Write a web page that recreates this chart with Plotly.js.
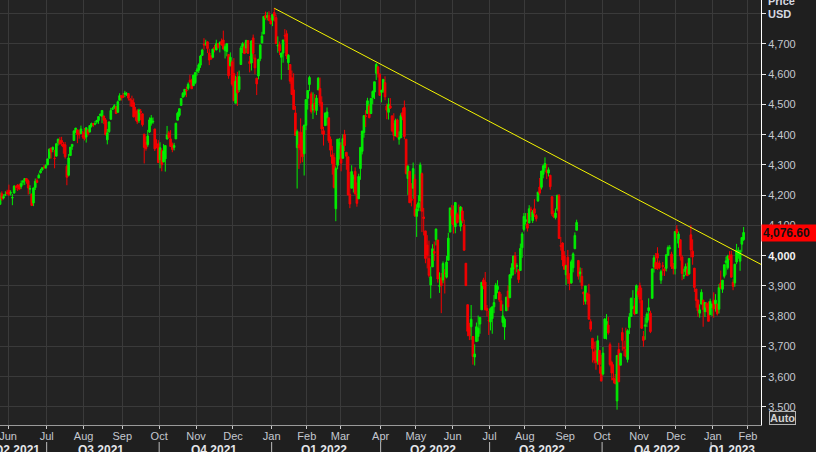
<!DOCTYPE html>
<html>
<head>
<meta charset="utf-8">
<script src="https://cdn.plot.ly/plotly-3.0.1.min.js"></script>
<style>
html,body{margin:0;padding:0;background:#1f1f1f;}
#chart{width:816px;height:452px;}
</style>
</head>
<body>
<div id="chart"></div>
<script>
// ---- Trading days (one line per month) ----
const dates = [
'2021-05-24','2021-05-25','2021-05-26','2021-05-27','2021-05-28',
'2021-06-01','2021-06-02','2021-06-03','2021-06-04','2021-06-07','2021-06-08','2021-06-09','2021-06-10','2021-06-11','2021-06-14','2021-06-15','2021-06-16','2021-06-17','2021-06-18','2021-06-21','2021-06-22','2021-06-23','2021-06-24','2021-06-25','2021-06-28','2021-06-29','2021-06-30',
'2021-07-01','2021-07-02','2021-07-06','2021-07-07','2021-07-08','2021-07-09','2021-07-12','2021-07-13','2021-07-14','2021-07-15','2021-07-16','2021-07-19','2021-07-20','2021-07-21','2021-07-22','2021-07-23','2021-07-26','2021-07-27','2021-07-28','2021-07-29','2021-07-30',
'2021-08-02','2021-08-03','2021-08-04','2021-08-05','2021-08-06','2021-08-09','2021-08-10','2021-08-11','2021-08-12','2021-08-13','2021-08-16','2021-08-17','2021-08-18','2021-08-19','2021-08-20','2021-08-23','2021-08-24','2021-08-25','2021-08-26','2021-08-27','2021-08-30','2021-08-31',
'2021-09-01','2021-09-02','2021-09-03','2021-09-07','2021-09-08','2021-09-09','2021-09-10','2021-09-13','2021-09-14','2021-09-15','2021-09-16','2021-09-17','2021-09-20','2021-09-21','2021-09-22','2021-09-23','2021-09-24','2021-09-27','2021-09-28','2021-09-29','2021-09-30',
'2021-10-01','2021-10-04','2021-10-05','2021-10-06','2021-10-07','2021-10-08','2021-10-11','2021-10-12','2021-10-13','2021-10-14','2021-10-15','2021-10-18','2021-10-19','2021-10-20','2021-10-21','2021-10-22','2021-10-25','2021-10-26','2021-10-27','2021-10-28','2021-10-29',
'2021-11-01','2021-11-02','2021-11-03','2021-11-04','2021-11-05','2021-11-08','2021-11-09','2021-11-10','2021-11-11','2021-11-12','2021-11-15','2021-11-16','2021-11-17','2021-11-18','2021-11-19','2021-11-22','2021-11-23','2021-11-24','2021-11-26','2021-11-29','2021-11-30',
'2021-12-01','2021-12-02','2021-12-03','2021-12-06','2021-12-07','2021-12-08','2021-12-09','2021-12-10','2021-12-13','2021-12-14','2021-12-15','2021-12-16','2021-12-17','2021-12-20','2021-12-21','2021-12-22','2021-12-23','2021-12-27','2021-12-28','2021-12-29','2021-12-30','2021-12-31',
'2022-01-03','2022-01-04','2022-01-05','2022-01-06','2022-01-07','2022-01-10','2022-01-11','2022-01-12','2022-01-13','2022-01-14','2022-01-18','2022-01-19','2022-01-20','2022-01-21','2022-01-24','2022-01-25','2022-01-26','2022-01-27','2022-01-28','2022-01-31',
'2022-02-01','2022-02-02','2022-02-03','2022-02-04','2022-02-07','2022-02-08','2022-02-09','2022-02-10','2022-02-11','2022-02-14','2022-02-15','2022-02-16','2022-02-17','2022-02-18','2022-02-22','2022-02-23','2022-02-24','2022-02-25','2022-02-28',
'2022-03-01','2022-03-02','2022-03-03','2022-03-04','2022-03-07','2022-03-08','2022-03-09','2022-03-10','2022-03-11','2022-03-14','2022-03-15','2022-03-16','2022-03-17','2022-03-18','2022-03-21','2022-03-22','2022-03-23','2022-03-24','2022-03-25','2022-03-28','2022-03-29','2022-03-30','2022-03-31',
'2022-04-01','2022-04-04','2022-04-05','2022-04-06','2022-04-07','2022-04-08','2022-04-11','2022-04-12','2022-04-13','2022-04-14','2022-04-18','2022-04-19','2022-04-20','2022-04-21','2022-04-22','2022-04-25','2022-04-26','2022-04-27','2022-04-28','2022-04-29',
'2022-05-02','2022-05-03','2022-05-04','2022-05-05','2022-05-06','2022-05-09','2022-05-10','2022-05-11','2022-05-12','2022-05-13','2022-05-16','2022-05-17','2022-05-18','2022-05-19','2022-05-20','2022-05-23','2022-05-24','2022-05-25','2022-05-26','2022-05-27','2022-05-31',
'2022-06-01','2022-06-02','2022-06-03','2022-06-06','2022-06-07','2022-06-08','2022-06-09','2022-06-10','2022-06-13','2022-06-14','2022-06-15','2022-06-16','2022-06-17','2022-06-21','2022-06-22','2022-06-23','2022-06-24','2022-06-27','2022-06-28','2022-06-29','2022-06-30',
'2022-07-01','2022-07-05','2022-07-06','2022-07-07','2022-07-08','2022-07-11','2022-07-12','2022-07-13','2022-07-14','2022-07-15','2022-07-18','2022-07-19','2022-07-20','2022-07-21','2022-07-22','2022-07-25','2022-07-26','2022-07-27','2022-07-28','2022-07-29',
'2022-08-01','2022-08-02','2022-08-03','2022-08-04','2022-08-05','2022-08-08','2022-08-09','2022-08-10','2022-08-11','2022-08-12','2022-08-15','2022-08-16','2022-08-17','2022-08-18','2022-08-19','2022-08-22','2022-08-23','2022-08-24','2022-08-25','2022-08-26','2022-08-29','2022-08-30','2022-08-31',
'2022-09-01','2022-09-02','2022-09-06','2022-09-07','2022-09-08','2022-09-09','2022-09-12','2022-09-13','2022-09-14','2022-09-15','2022-09-16','2022-09-19','2022-09-20','2022-09-21','2022-09-22','2022-09-23','2022-09-26','2022-09-27','2022-09-28','2022-09-29','2022-09-30',
'2022-10-03','2022-10-04','2022-10-05','2022-10-06','2022-10-07','2022-10-10','2022-10-11','2022-10-12','2022-10-13','2022-10-14','2022-10-17','2022-10-18','2022-10-19','2022-10-20','2022-10-21','2022-10-24','2022-10-25','2022-10-26','2022-10-27','2022-10-28','2022-10-31',
'2022-11-01','2022-11-02','2022-11-03','2022-11-04','2022-11-07','2022-11-08','2022-11-09','2022-11-10','2022-11-11','2022-11-14','2022-11-15','2022-11-16','2022-11-17','2022-11-18','2022-11-21','2022-11-22','2022-11-23','2022-11-25','2022-11-28','2022-11-29','2022-11-30',
'2022-12-01','2022-12-02','2022-12-05','2022-12-06','2022-12-07','2022-12-08','2022-12-09','2022-12-12','2022-12-13','2022-12-14','2022-12-15','2022-12-16','2022-12-19','2022-12-20','2022-12-21','2022-12-22','2022-12-23','2022-12-27','2022-12-28','2022-12-29','2022-12-30',
'2023-01-03','2023-01-04','2023-01-05','2023-01-06','2023-01-09','2023-01-10','2023-01-11','2023-01-12','2023-01-13','2023-01-17','2023-01-18','2023-01-19','2023-01-20','2023-01-23','2023-01-24','2023-01-25','2023-01-26','2023-01-27'
];

const open = [
4170,4205,4191,4201,4210,
4216,4207,4191,4207,4229,4234,4233,4229,4243,4249,4255,4248,4220,4204,4174,4225,4249,4257,4274,4284,4293,4290,
4300,4322,4356,4351,4321,4329,4373,4381,4381,4369,4367,4296,4266,4331,4361,4381,4409,4416,4403,4404,4396,
4407,4392,4416,4409,4429,4437,4435,4442,4447,4464,4461,4462,4449,4383,4410,4451,4484,4490,4493,4474,4514,4529,
4528,4534,4532,4536,4518,4513,4506,4475,4479,4447,4477,4469,4402,4375,4367,4409,4438,4442,4419,4362,4370,
4317,4348,4310,4320,4386,4406,4386,4368,4358,4386,4448,4464,4497,4524,4532,4547,4553,4580,4579,4562,4572,
4610,4613,4630,4662,4699,4701,4707,4670,4660,4656,4689,4680,4701,4700,4708,4713,4678,4675,4665,4628,4640,
4602,4504,4590,4549,4632,4690,4691,4687,4711,4642,4637,4720,4653,4587,4594,4651,4703,4733,4795,4788,4795,4776,
4778,4804,4787,4693,4698,4656,4670,4728,4734,4638,4632,4588,4548,4472,4357,4367,4408,4381,4337,4431,
4520,4566,4535,4482,4505,4480,4548,4553,4507,4413,4430,4456,4456,4385,4333,4325,4155,4299,4354,
4364,4322,4401,4342,4327,4203,4223,4253,4279,4203,4188,4288,4345,4407,4462,4470,4494,4470,4523,4541,4603,4624,4600,
4540,4547,4572,4495,4474,4495,4462,4437,4396,4449,4385,4390,4473,4490,4385,4255,4279,4187,4223,4253,
4130,4159,4181,4271,4128,4082,4035,3990,3903,3963,4014,4053,4052,3899,3927,3920,3943,3929,3985,4078,4151,
4149,4096,4137,4134,4097,4148,4102,3975,3838,3763,3765,3733,3665,3716,3733,3774,3821,3920,3913,3826,3786,
3781,3792,3831,3858,3888,3880,3851,3779,3764,3818,3883,3861,3935,3955,4000,3965,3954,3951,4026,4087,
4113,4105,4108,4154,4116,4155,4133,4181,4227,4226,4269,4291,4281,4273,4266,4195,4134,4126,4154,4199,4034,4042,4001,
3937,3995,3931,3910,3960,4023,4084,3984,3940,3932,3880,3849,3876,3872,3782,3727,3682,3686,3651,3687,3633,
3609,3726,3754,3771,3706,3647,3596,3591,3520,3690,3638,3746,3696,3689,3657,3762,3799,3825,3834,3809,3881,
3901,3852,3733,3767,3780,3818,3810,3859,3963,3978,4007,3976,3919,3967,3956,3958,4001,4024,4005,3964,3957,
4087,4041,4053,3996,3933,3947,3954,3940,4069,4015,3959,3890,3853,3810,3840,3853,3815,3843,3830,3805,3829,
3853,3840,3840,3823,3910,3889,3932,3977,3960,3999,4003,3912,3910,3979,4001,3982,4038,4053
];

const high = [
4209,4213,4203,4213,4218,
4235,4216,4204,4233,4232,4236,4238,4249,4249,4255,4257,4252,4233,4204,4225,4255,4256,4272,4287,4292,4300,4302,
4320,4355,4357,4361,4350,4372,4387,4392,4393,4376,4376,4301,4336,4359,4369,4415,4422,4416,4415,4430,4412,
4422,4424,4417,4430,4440,4439,4445,4449,4461,4468,4480,4462,4455,4419,4444,4489,4492,4501,4495,4513,4537,4531,
4538,4545,4541,4536,4521,4529,4520,4492,4485,4486,4485,4471,4402,4394,4416,4457,4465,4457,4419,4385,4382,
4375,4355,4369,4365,4429,4412,4415,4374,4373,4439,4476,4487,4521,4541,4550,4559,4573,4598,4585,4597,4608,
4621,4636,4664,4684,4719,4714,4708,4684,4664,4684,4697,4714,4701,4708,4718,4744,4699,4702,4665,4672,4646,
4653,4595,4608,4612,4694,4706,4705,4713,4712,4660,4712,4731,4666,4587,4651,4697,4740,4791,4807,4805,4808,4787,
4797,4819,4797,4725,4708,4666,4714,4749,4745,4666,4632,4612,4603,4495,4417,4411,4454,4428,4432,4516,
4546,4595,4542,4540,4534,4531,4590,4589,4527,4426,4472,4490,4456,4394,4363,4339,4295,4385,4389,
4375,4401,4416,4342,4327,4277,4299,4268,4292,4242,4271,4358,4412,4465,4481,4522,4501,4520,4546,4575,4637,4628,4603,
4549,4583,4593,4503,4521,4521,4464,4471,4453,4453,4411,4471,4489,4513,4386,4299,4279,4240,4308,4269,
4170,4200,4308,4275,4158,4082,4068,4050,3964,4038,4047,4090,4052,3945,3943,3981,3956,3999,4076,4158,4168,
4166,4177,4143,4169,4164,4160,4119,3975,3838,3778,3837,3733,3707,3779,3802,3796,3913,3927,3946,3837,3818,
3829,3832,3870,3910,3919,3880,3874,3839,3796,3863,3902,3939,3975,3999,4012,3975,3954,4040,4078,4141,
4141,4141,4167,4162,4151,4187,4138,4211,4257,4280,4301,4325,4303,4292,4267,4196,4149,4156,4200,4204,4062,4044,4015,
3970,4019,3942,3987,4011,4077,4119,3986,3961,3959,3880,3900,3877,3907,3790,3727,3716,3717,3736,3687,3672,
3698,3793,3807,3797,3713,3653,3641,3609,3671,3712,3679,3762,3719,3762,3757,3810,3862,3886,3860,3905,3893,
3911,3894,3751,3796,3813,3859,3818,3958,4002,4009,4028,3984,3954,3979,3962,4004,4034,4035,4013,3976,4081,
4101,4080,4053,4001,3957,3974,3977,3991,4101,4054,3959,3890,3855,3839,3889,3853,3846,3846,3849,3858,3840,
3879,3873,3840,3906,3951,3919,3970,3997,4003,4015,4016,3922,3973,4039,4028,4020,4061,4095
];

const low = [
4168,4182,4186,4197,4203,
4197,4199,4167,4206,4217,4214,4219,4221,4233,4234,4238,4202,4203,4165,4164,4217,4241,4256,4272,4281,4287,4288,
4300,4322,4321,4342,4289,4329,4364,4369,4362,4337,4321,4233,4262,4330,4350,4381,4405,4372,4387,4403,4387,
4381,4374,4397,4407,4424,4425,4431,4436,4436,4461,4438,4435,4398,4368,4406,4450,4482,4485,4468,4473,4514,4513,
4522,4524,4528,4513,4493,4493,4457,4446,4435,4439,4448,4427,4305,4347,4360,4406,4430,4436,4346,4355,4306,
4289,4279,4309,4278,4384,4386,4360,4342,4348,4386,4448,4459,4496,4524,4526,4524,4547,4569,4552,4562,4567,
4595,4604,4621,4662,4681,4694,4670,4630,4648,4653,4672,4680,4684,4672,4694,4682,4652,4659,4585,4626,4560,
4510,4504,4495,4541,4632,4670,4667,4670,4667,4606,4612,4651,4600,4531,4583,4643,4703,4733,4780,4778,4775,4766,
4759,4774,4700,4671,4663,4582,4638,4708,4650,4614,4568,4533,4483,4396,4222,4287,4305,4309,4265,4415,
4483,4544,4470,4452,4473,4465,4548,4493,4402,4364,4429,4430,4373,4327,4268,4222,4114,4286,4318,
4279,4322,4346,4284,4199,4157,4223,4209,4202,4162,4188,4251,4335,4390,4425,4470,4455,4469,4501,4518,4581,4589,4530,
4507,4539,4514,4451,4450,4485,4408,4381,4395,4392,4367,4390,4448,4385,4268,4201,4175,4163,4188,4128,
4062,4147,4147,4078,4067,3975,3958,3928,3859,3963,3983,4034,3911,3877,3810,3909,3875,3925,3985,4078,4104,
4073,4074,4107,4110,4081,4107,4017,3901,3734,3721,3722,3640,3637,3716,3717,3742,3821,3889,3820,3799,3738,
3753,3742,3810,3858,3876,3847,3818,3765,3722,3818,3818,3861,3925,3935,3939,3945,3910,3951,3993,4080,
4103,4080,4108,4128,4108,4128,4113,4178,4201,4219,4256,4278,4253,4262,4218,4131,4124,4120,4147,4057,4017,3965,3954,
3903,3907,3886,3907,3945,4023,4084,3921,3911,3889,3837,3839,3838,3789,3749,3647,3644,3623,3640,3610,3584,
3604,3726,3723,3739,3634,3588,3578,3575,3491,3583,3638,3686,3668,3664,3647,3741,3799,3824,3803,3808,3863,
3843,3758,3699,3722,3764,3786,3744,3859,3944,3956,3953,3955,3907,3934,3933,3948,4000,4020,3956,3938,3938,
4057,4026,3984,3919,3923,3935,3933,3937,3994,3970,3880,3828,3798,3795,3839,3765,3798,3813,3783,3805,3800,
3795,3815,3802,3809,3890,3877,3925,3937,3954,3985,3928,3886,3897,3972,3990,3950,4013,4049
];

const close = [
4197,4188,4195,4201,4204,
4202,4208,4192,4230,4226,4227,4220,4239,4247,4255,4246,4224,4222,4166,4224,4246,4242,4266,4281,4291,4291,4298,
4320,4352,4343,4358,4321,4370,4385,4369,4374,4360,4327,4259,4323,4359,4368,4412,4422,4401,4400,4419,4395,
4387,4423,4403,4430,4437,4432,4436,4447,4460,4468,4480,4448,4400,4406,4442,4480,4486,4496,4470,4509,4529,4523,
4524,4537,4535,4521,4515,4494,4459,4469,4443,4481,4474,4433,4358,4354,4396,4449,4455,4444,4353,4359,4308,
4357,4301,4346,4364,4399,4391,4361,4351,4364,4438,4471,4486,4520,4537,4550,4545,4567,4575,4552,4597,4605,
4614,4631,4660,4680,4697,4702,4685,4647,4650,4683,4683,4701,4689,4704,4698,4683,4691,4701,4595,4656,4567,
4513,4577,4538,4592,4687,4701,4668,4712,4669,4635,4710,4669,4621,4568,4649,4697,4726,4791,4786,4793,4778,4766,
4797,4793,4701,4696,4677,4670,4713,4726,4660,4663,4577,4533,4483,4398,4410,4357,4350,4327,4432,4516,
4546,4589,4477,4501,4484,4521,4587,4504,4419,4401,4472,4475,4380,4349,4305,4226,4288,4385,4374,
4306,4387,4364,4329,4201,4171,4278,4260,4204,4173,4262,4358,4412,4463,4461,4512,4456,4520,4543,4575,4632,4602,4530,
4546,4583,4525,4481,4501,4488,4413,4397,4447,4392,4391,4463,4460,4394,4272,4296,4175,4183,4288,4132,
4155,4175,4300,4147,4123,3991,4001,3935,3930,4023,4008,4088,3923,3901,3901,3974,3941,3979,4058,4158,4132,
4101,4176,4109,4121,4161,4116,4018,3901,3750,3735,3790,3667,3675,3765,3760,3796,3912,3901,3821,3819,3785,
3825,3831,3845,3903,3899,3854,3819,3801,3790,3863,3831,3937,3960,3999,3962,3967,3921,4024,4072,4130,
4119,4091,4155,4152,4145,4140,4122,4210,4207,4280,4297,4305,4275,4284,4228,4138,4128,4141,4200,4057,4031,3986,3955,
3967,3924,3908,3980,4006,4067,4110,3932,3946,3901,3873,3900,3856,3790,3757,3693,3655,3647,3719,3640,3586,
3678,3791,3783,3745,3640,3612,3589,3577,3670,3583,3677,3720,3695,3666,3752,3797,3859,3831,3807,3901,3872,
3856,3760,3720,3771,3807,3828,3749,3956,3993,3957,3992,3959,3947,3965,3950,4003,4027,4026,3964,3958,4080,
4076,4072,3999,3941,3934,3964,3934,3991,4019,3996,3895,3852,3818,3821,3879,3822,3845,3829,3783,3849,3840,
3824,3853,3808,3895,3893,3919,3970,3983,3999,3991,3929,3899,3972,4019,4017,4016,4060,4076.60
];

// ---- Market holidays (no candles) ----
const holidays = ['2021-05-31','2021-07-05','2021-09-06','2021-11-25','2021-12-24','2022-01-17','2022-02-21',
  '2022-04-15','2022-05-30','2022-06-20','2022-07-04','2022-09-05','2022-11-24','2022-12-26','2023-01-02','2023-01-16'];

// ---- Trend line (drawn from the Jan-2022 high) ----
const trendX = ['2022-01-04 12:00', '2023-02-10 12:00'];
const trendY = [4818, 3971];

// ---- Axis labels ----
const yTickVals = [3500,3600,3700,3800,3900,4000,4100,4200,4300,4400,4500,4600,4700,4800];
const yTickText = ['3,500','3,600','3,700','3,800','3,900','<b><span style="color:#f2f2f2">4,000</span></b>','4,100','4,200','4,300','4,400','4,500','4,600','4,700',''];
const quarterStarts = ['2021-07-01','2021-10-01','2022-01-01','2022-04-01','2022-07-01','2022-10-01','2023-01-01'];
const quarterLabels = ['Q2 2021','Q3 2021','Q4 2021','Q1 2022','Q2 2022','Q3 2022','Q4 2022','Q1 2023'];
const quarterLabelAt = ['2021-06-08','2021-08-16','2021-11-15','2022-02-15','2022-05-16','2022-08-15','2022-11-15','2023-01-19'];

const xRange = ['2021-05-24 10:48', '2023-02-10 09:36'];
const yRange = [3440.3, 4845.3];

const candle = {
  type: 'candlestick',
  x: dates.map(d => d + ' 12:00'),
  open: open, high: high, low: low, close: close,
  increasing: {line: {color: '#00ee00', width: 1}, fillcolor: '#00ee00'},
  decreasing: {line: {color: '#f50000', width: 1}, fillcolor: '#f50000'},
  whiskerwidth: 0,
  hoverinfo: 'skip',
  showlegend: false
};

const trend = {
  type: 'scatter', mode: 'lines',
  x: trendX, y: trendY,
  line: {color: '#f5f500', width: 1},
  hoverinfo: 'skip', showlegend: false
};

const plotH = 425;
const pxToPaperY = p => (plotH - p) / plotH;

const shapes = quarterStarts.map(q => ({
  type: 'line', xref: 'x', yref: 'paper',
  x0: q, x1: q, y0: pxToPaperY(442), y1: pxToPaperY(456),
  line: {color: '#bdbdbd', width: 1}
}));

const annotations = quarterLabels.map((t, i) => ({
  xref: 'x', yref: 'paper', x: quarterLabelAt[i], y: pxToPaperY(449.5),
  xanchor: 'center', yanchor: 'middle', showarrow: false,
  text: '<b>' + t + '</b>',
  font: {size: 12, color: '#e4e6ea', family: 'Liberation Sans, Arial, sans-serif'}
}));

const lastClose = close[close.length - 1];
annotations.push({
  xref: 'paper', yref: 'y', x: 1, y: lastClose,
  xanchor: 'left', yanchor: 'middle', showarrow: false,
  text: '<b>' + lastClose.toLocaleString('en-US', {minimumFractionDigits: 2, maximumFractionDigits: 2}) + '</b>',
  bgcolor: '#ff0000', borderpad: 1, width: 53, align: 'left',
  font: {size: 12, color: '#111111', family: 'Liberation Sans, Arial, sans-serif'}
});
annotations.push({
  xref: 'paper', yref: 'paper', x: 1 + 5 / 761, y: pxToPaperY(1),
  xanchor: 'left', yanchor: 'middle', showarrow: false,
  text: '<b>Price</b>', font: {size: 11, color: '#d6d9e0'}
});
annotations.push({
  xref: 'paper', yref: 'paper', x: 1 + 5 / 761, y: pxToPaperY(14.5),
  xanchor: 'left', yanchor: 'middle', showarrow: false,
  text: '<b>USD</b>', font: {size: 11, color: '#d6d9e0'}
});
annotations.push({
  xref: 'paper', yref: 'paper', x: 1 + 21 / 761, y: pxToPaperY(418),
  xanchor: 'center', yanchor: 'middle', showarrow: false,
  text: '<b>Auto</b>', font: {size: 11, color: '#d0d0d0'},
  bordercolor: '#b5b5b5', borderwidth: 1, borderpad: 0, bgcolor: '#262626'
});

const layout = {
  width: 816, height: 452,
  margin: {l: 0, r: 55, t: 0, b: 27, pad: 0},
  paper_bgcolor: '#1f1f1f',
  plot_bgcolor: '#232323',
  showlegend: false,
  boxgap: 0.04, boxgroupgap: 0.04,
  font: {family: 'Liberation Sans, Arial, sans-serif', size: 11, color: '#c4c8d0'},
  xaxis: {
    type: 'date', range: xRange,
    rangebreaks: [{bounds: ['sat', 'mon']}, {values: holidays}],
    rangeslider: {visible: false},
    dtick: 'M1', tick0: '2021-06-01', tickformat: '%b',
    ticks: 'outside', ticklen: 3, tickcolor: '#c8c8c8',
    ticklabeloverflow: 'allow', ticklabelstandoff: -2,
    showgrid: true, gridcolor: '#3a3a3a', gridwidth: 1,
    showline: true, linecolor: '#9a9a9a', linewidth: 1,
    zeroline: false, fixedrange: true,
    tickfont: {size: 11, color: '#c4c8d0'}
  },
  yaxis: {
    side: 'right', range: yRange,
    tickmode: 'array', tickvals: yTickVals, ticktext: yTickText,
    ticks: 'outside', ticklen: 4, tickcolor: '#e6e6e6',
    showline: true, linecolor: '#ffffff', linewidth: 1,
    showgrid: true, gridcolor: '#3a3a3a', gridwidth: 1,
    zeroline: false, fixedrange: true,
    tickfont: {size: 11, color: '#c4c8d0'}
  },
  shapes: shapes,
  annotations: annotations
};

Plotly.newPlot('chart', [candle, trend], layout, {displayModeBar: false, staticPlot: true});
</script>
</body>
</html>
